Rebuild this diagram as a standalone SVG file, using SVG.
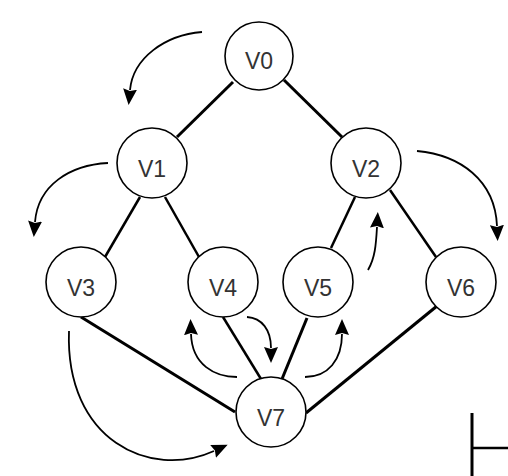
<svg xmlns="http://www.w3.org/2000/svg" width="508" height="476" viewBox="0 0 508 476">
<style>
.edge{stroke:#000;stroke-width:3;fill:none;stroke-linecap:butt}
.thin{stroke-width:2.5}
.arc{stroke:#000;stroke-width:1.8;fill:none;marker-end:url(#ah)}
.node circle{fill:#fff;stroke:#000;stroke-width:1.6}
.node text{font-family:"Liberation Sans",Arial,sans-serif;font-size:23px;fill:#333;text-anchor:middle}
</style>
<defs>
<marker id="ah" viewBox="0 0 16 14" refX="1" refY="7" markerWidth="16" markerHeight="14" markerUnits="userSpaceOnUse" orient="auto">
<path d="M0,0 L16,7 L0,14 L2,7 z" fill="#000"/>
</marker>
</defs>
<rect width="508" height="476" fill="#fff"/>
<g id="connectors">
<line class="edge" x1="233" y1="82" x2="177" y2="137"/>
<line class="edge" x1="284" y1="80" x2="342" y2="137"/>
<line class="edge thin" x1="140" y1="197" x2="105" y2="257"/>
<line class="edge thin" x1="165" y1="197" x2="199" y2="257"/>
<line class="edge thin" x1="355" y1="197" x2="331" y2="248"/>
<line class="edge thin" x1="390" y1="190" x2="436" y2="257"/>
<line class="edge" x1="81" y1="317" x2="235" y2="412"/>
<line class="edge thin" x1="223" y1="317" x2="261" y2="379"/>
<line class="edge" x1="307" y1="318" x2="282" y2="379"/>
<line class="edge" x1="437" y1="306" x2="306" y2="413"/>
<path class="arc" d="M 202 32 C 165 35 133 58 130 90"/>
<path class="arc" d="M 108 163 C 70 165 38 185 35 222"/>
<path class="arc" d="M 417 151 C 460 155 495 180 497 226"/>
<path class="arc" d="M 368 270 C 375 258 376 245 377 227"/>
<path class="arc" d="M 69 331 C 65 440 150 480 214 451"/>
<path class="arc" d="M 237 377 C 215 377 192 365 191 334"/>
<path class="arc" d="M 247 317 C 262 318 271 330 271 348"/>
<path class="arc" d="M 305 377 C 328 377 342 360 342 334"/>
</g>
<g id="V0" class="node"><circle cx="259" cy="56" r="34"/><text x="259" y="69">V0</text></g>
<g id="V1" class="node"><circle cx="152" cy="163" r="35"/><text x="152" y="177">V1</text></g>
<g id="V2" class="node"><circle cx="366" cy="163" r="35"/><text x="366" y="177">V2</text></g>
<g id="V3" class="node"><circle cx="81" cy="282" r="35"/><text x="81" y="296">V3</text></g>
<g id="V4" class="node"><circle cx="223" cy="282" r="35"/><text x="223" y="296">V4</text></g>
<g id="V5" class="node"><circle cx="318" cy="282" r="35"/><text x="318" y="296">V5</text></g>
<g id="V6" class="node"><circle cx="461" cy="282" r="35"/><text x="461" y="296">V6</text></g>
<g id="V7" class="node"><circle cx="271" cy="412" r="35"/><text x="271" y="426">V7</text></g>
<g id="corner">
<line x1="472" y1="413" x2="472" y2="476" stroke="#000" stroke-width="3"/>
<line x1="472" y1="448" x2="508" y2="448" stroke="#000" stroke-width="2.5"/>
</g>
</svg>
